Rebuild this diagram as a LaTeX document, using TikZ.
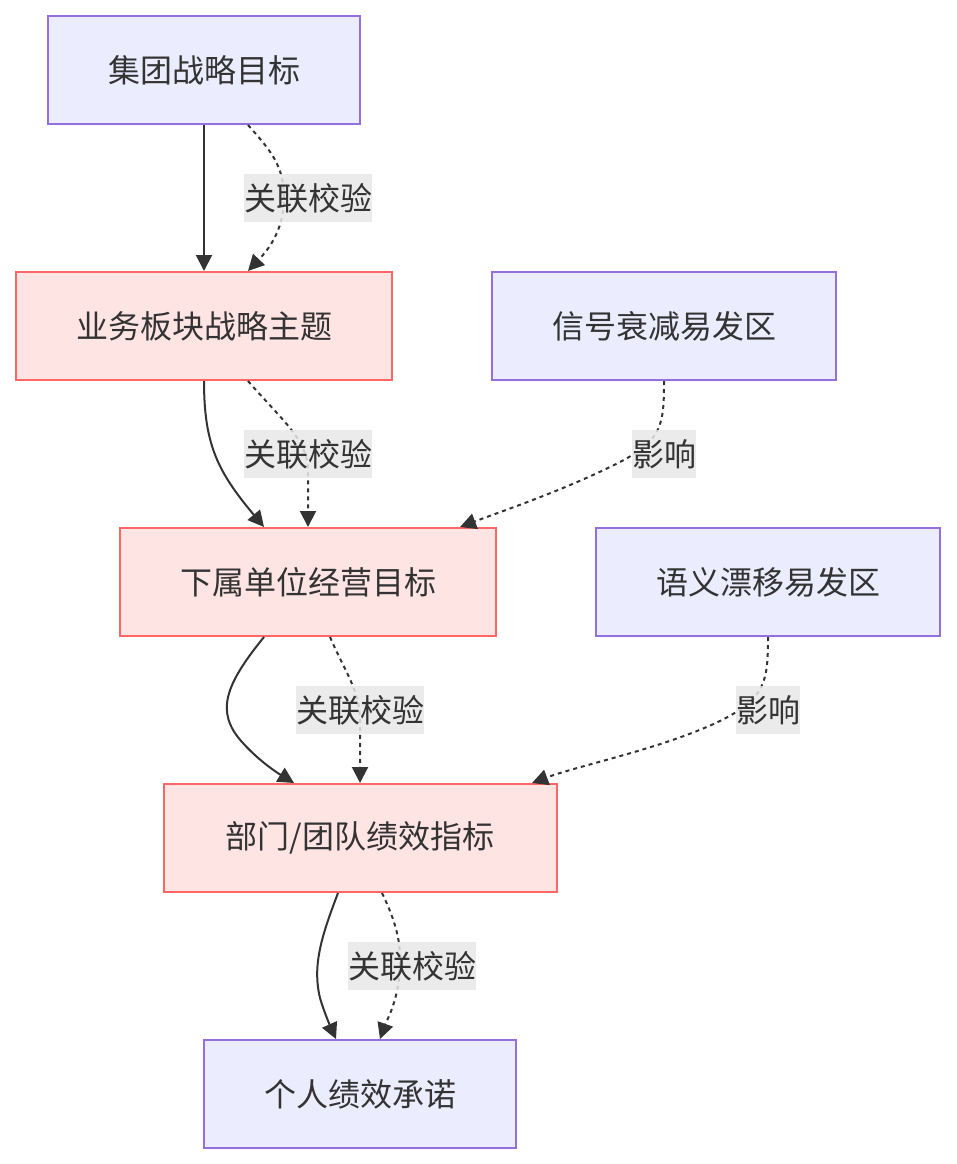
\documentclass[tikz,border=0pt]{standalone}
\usepackage{fontspec}
\newfontfamily\cjk{Noto Sans CJK SC}
\usetikzlibrary{arrows.meta}
\definecolor{purpfill}{HTML}{ECECFF}
\definecolor{purpline}{HTML}{9370DB}
\definecolor{pinkfill}{HTML}{FFE4E4}
\definecolor{pinkline}{HTML}{FF6666}
\definecolor{txt}{HTML}{333333}
\definecolor{lblbg}{HTML}{E8E8E8}
\tikzset{
  box/.style={draw, line width=2pt, inner sep=0pt, minimum height=108pt, text=txt, font=\cjk\fontsize{32}{38}\selectfont},
  purp/.style={box, fill=purpfill, draw=purpline},
  pink/.style={box, fill=pinkfill, draw=pinkline},
  edge/.style={draw=txt, line width=2pt, -{Triangle[length=16pt,width=16pt]}},
  dot/.style={edge, dash pattern=on 4pt off 4pt},
  lbl/.style={fill=lblbg, fill opacity=0.85, text opacity=1, text=txt, inner sep=0pt, minimum height=48pt, font=\cjk\fontsize{32}{38}\selectfont}
}
\begin{document}
\begin{tikzpicture}[x=1pt,y=-1pt]
\useasboundingbox (0,0) rectangle (956,1164);
\node[purp, minimum width=312pt] (A) at (204,70) {集团战略目标};
\node[pink, minimum width=376pt] (B) at (204,326) {业务板块战略主题};
\node[purp, minimum width=344pt] (S1) at (664,326) {信号衰减易发区};
\node[pink, minimum width=376pt] (C) at (308,582) {下属单位经营目标};
\node[purp, minimum width=344pt] (S2) at (768,582) {语义漂移易发区};
\node[pink, minimum width=393pt] (D) at (360,838) {部门/团队绩效指标};
\node[purp, minimum width=312pt] (E) at (360,1094) {个人绩效承诺};

% A -> B
\draw[edge] (A.south) -- (B.north);
\draw[dot] ([xshift=44pt]A.south) .. controls (270,150) and (284,165) .. (284,198) .. controls (284,232) and (266,252) .. ([xshift=44pt]B.north);
% B -> C
\draw[edge] (B.south) .. controls (204,445) and (218,472) .. ([xshift=-44pt]C.north);
\draw[dot] ([xshift=44pt]B.south) .. controls (280,418) and (308,440) .. (308,470) -- (C.north);
% S1 -> C
\draw[dot] (S1.south) .. controls (664,425) and (662,440) .. (620,462) .. controls (565,490) and (505,510) .. ([xshift=152pt]C.north);
% C -> D
\draw[edge] ([xshift=-44pt]C.south) .. controls (225,685) and (215,712) .. (242,742) .. controls (258,760) and (276,772) .. ([xshift=-66pt]D.north);
\draw[dot] ([xshift=22pt]C.south) .. controls (345,672) and (360,690) .. (360,722) -- (D.north);
% S2 -> D
\draw[dot] (S2.south) .. controls (768,682) and (765,698) .. (722,720) .. controls (665,748) and (580,765) .. ([xshift=172pt]D.north);
% D -> E
\draw[edge] ([xshift=-22pt]D.south) .. controls (322,935) and (312,965) .. (320,998) .. controls (325,1015) and (332,1030) .. ([xshift=-24pt]E.north);
\draw[dot] ([xshift=22pt]D.south) .. controls (396,922) and (401,942) .. (400,966) .. controls (399,1000) and (386,1022) .. ([xshift=20pt]E.north);

% labels
\node[lbl] (l1) at (308,198) {关联校验};
\node[lbl] (l2) at (308,454) {关联校验};
\node[lbl] (l3) at (664,454) {影响};
\node[lbl] (l4) at (360,710) {关联校验};
\node[lbl] (l5) at (768,710) {影响};
\node[lbl] (l6) at (412,966) {关联校验};
\end{tikzpicture}
\end{document}
